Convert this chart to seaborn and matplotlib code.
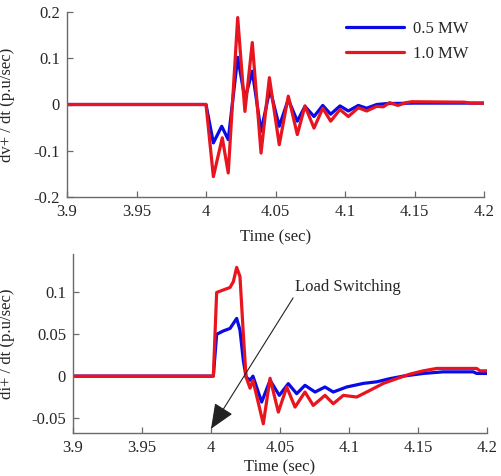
import numpy as np
import pandas as pd
import matplotlib
matplotlib.use("Agg")
import matplotlib.pyplot as plt
import seaborn as sns

# ---- data ----
# top panel: dv+/dt
t_v_05 = [3.90, 4.000, 4.0053, 4.0113, 4.016, 4.0228, 4.028, 4.0333, 4.0396, 4.046, 4.0527,
          4.0592, 4.0657, 4.0712, 4.0777, 4.084, 4.0897, 4.0964, 4.1024, 4.1096, 4.1156,
          4.1228, 4.130, 4.150, 4.186, 4.200]
dv_05 = [0, 0, -0.083, -0.047, -0.076, 0.102, 0.012, 0.072, -0.058, 0.033, -0.047,
         0.011, -0.036, -0.004, -0.026, -0.002, -0.021, -0.003, -0.014, -0.002, -0.008,
         0.0, 0.002, 0.003, 0.003, 0.003]

t_v_10 = [3.90, 4.000, 4.0053, 4.0117, 4.016, 4.0228, 4.028, 4.0333, 4.0396, 4.0456, 4.0527,
          4.0592, 4.0657, 4.0712, 4.0777, 4.084, 4.0897, 4.0964, 4.1024, 4.1096, 4.1156,
          4.1228, 4.1276, 4.132, 4.138, 4.144, 4.148, 4.186, 4.190, 4.200]
dv_10 = [0, 0, -0.156, -0.072, -0.148, 0.188, -0.015, 0.134, -0.105, 0.058, -0.087,
         0.018, -0.065, -0.003, -0.051, -0.008, -0.036, -0.011, -0.026, -0.007, -0.014,
         -0.004, -0.005, 0.004, -0.002, 0.004, 0.006, 0.005, 0.003, 0.003]

# bottom panel: di+/dt
t_i = [3.90, 4.0017, 4.0041, 4.0089, 4.0138, 4.0186, 4.0210, 4.0234, 4.0254, 4.0283, 4.0304,
       4.0367, 4.0428, 4.0495, 4.0560, 4.0621, 4.0681, 4.0754, 4.0826, 4.0886, 4.0983,
       4.1104, 4.1201, 4.1297, 4.1393, 4.1538, 4.1683, 4.1901, 4.1925, 4.2000]
di_05 = [0, 0, 0.050, 0.054, 0.057, 0.069, 0.055, 0.019, -0.001, -0.005, 0.0,
         -0.031, -0.005, -0.023, -0.009, -0.021, -0.011, -0.019, -0.013, -0.019, -0.013,
         -0.0087, -0.0068, -0.003, 0.0, 0.0032, 0.0051, 0.0051, 0.0032, 0.0032]

t_i_10 = [3.90, 4.0017, 4.0041, 4.0089, 4.0138, 4.0162, 4.0186, 4.0210, 4.0234, 4.0254, 4.0283,
          4.0304, 4.0379, 4.0428, 4.0488, 4.0549, 4.0609, 4.0681, 4.0741, 4.0826, 4.0886,
          4.0959, 4.1056, 4.1152, 4.1249, 4.1346, 4.1442, 4.1538, 4.1636, 4.1925, 4.1949, 4.2000]
di_10 = [0, 0, 0.100, 0.103, 0.106, 0.113, 0.130, 0.119, 0.051, -0.001, -0.0144,
         -0.005, -0.057, -0.0026, -0.043, -0.013, -0.037, -0.019, -0.035, -0.023, -0.033,
         -0.023, -0.025, -0.017, -0.0087, -0.003, 0.0024, 0.0063, 0.0092, 0.0092, 0.0063, 0.0063]

labels = ["0.5 MW", "1.0 MW"]
colors = {"0.5 MW": "#0a0ae6", "1.0 MW": "#e8141e"}

df_v = pd.concat([
    pd.DataFrame({"t": t_v_05, "v": dv_05, "case": labels[0]}),
    pd.DataFrame({"t": t_v_10, "v": dv_10, "case": labels[1]}),
])
df_i = pd.concat([
    pd.DataFrame({"t": t_i, "v": di_05, "case": labels[0]}),
    pd.DataFrame({"t": t_i_10, "v": di_10, "case": labels[1]}),
])

sns.set_style("ticks")
plt.rcParams["font.family"] = ["Liberation Serif", "DejaVu Serif"]
plt.rcParams["font.size"] = 12
plt.rcParams["lines.solid_joinstyle"] = "round"

fig = plt.figure(figsize=(5.01, 4.76), dpi=100)
ax1 = fig.add_axes([67 / 501, (476 - 197) / 476, 417 / 501, 185 / 476])
ax2 = fig.add_axes([73 / 501, (476 - 433) / 476, 414 / 501, 179 / 476])

sns.lineplot(data=df_v, x="t", y="v", hue="case", hue_order=labels, palette=colors,
             estimator=None, sort=False, lw=2.3, ax=ax1)
sns.lineplot(data=df_i, x="t", y="v", hue="case", hue_order=labels, palette=colors,
             estimator=None, sort=False, lw=2.3, ax=ax2, legend=False)

xt = [3.9, 3.95, 4.0, 4.05, 4.1, 4.15, 4.2]
xtl = ["3.9", "3.95", "4", "4.05", "4.1", "4.15", "4.2"]

for ax in (ax1, ax2):
    ax.set_xlim(3.9, 4.2)
    ax.set_xticks(xt)
    ax.set_xticklabels(xtl)
    sns.despine(ax=ax)
    for s in ("left", "bottom"):
        ax.spines[s].set_color("#6a6a6a")
        ax.spines[s].set_linewidth(1.0)
    ax.tick_params(direction="in", length=4, width=0.9, color="#6a6a6a",
                   labelsize=12, pad=5)
    ax.set_xlabel("Time (sec)", fontsize=12)

ax1.set_ylim(-0.2, 0.2)
ax1.set_yticks([-0.2, -0.1, 0, 0.1, 0.2])
ax1.set_yticklabels(["-0.2", "-0.1", "0", "0.1", "0.2"])
ax1.set_ylabel("dv+ / dt (p.u/sec)", fontsize=12)
ax1.yaxis.set_label_coords(-0.125, 0.5)
ax1.xaxis.set_label_coords(0.5, -0.175)

ax2.set_ylim(-0.068, 0.146)
ax2.set_yticks([-0.05, 0, 0.05, 0.1])
ax2.set_yticklabels(["-0.05", "0", "0.05", "0.1"])
ax2.set_ylabel("di+ / dt (p.u/sec)", fontsize=12)
ax2.yaxis.set_label_coords(-0.14, 0.5)
ax2.xaxis.set_label_coords(0.5, -0.15)

ax1.legend(title=None, frameon=False, loc="upper left", bbox_to_anchor=(0.669, 0.95),
           borderpad=0, borderaxespad=0, handlelength=3.5, handletextpad=0.5,
           labelspacing=0.5, fontsize=12)

ax2.annotate("Load Switching", xy=(4.0, -0.063), xytext=(4.061, 0.107),
             ha="left", va="center", fontsize=12,
             arrowprops=dict(arrowstyle="-|>,head_length=1.3,head_width=0.55",
                             color="#222222", lw=0.8, shrinkA=0, shrinkB=0,
                             relpos=(0.0, 0.0)))

fig.savefig("out.png", dpi=100)
